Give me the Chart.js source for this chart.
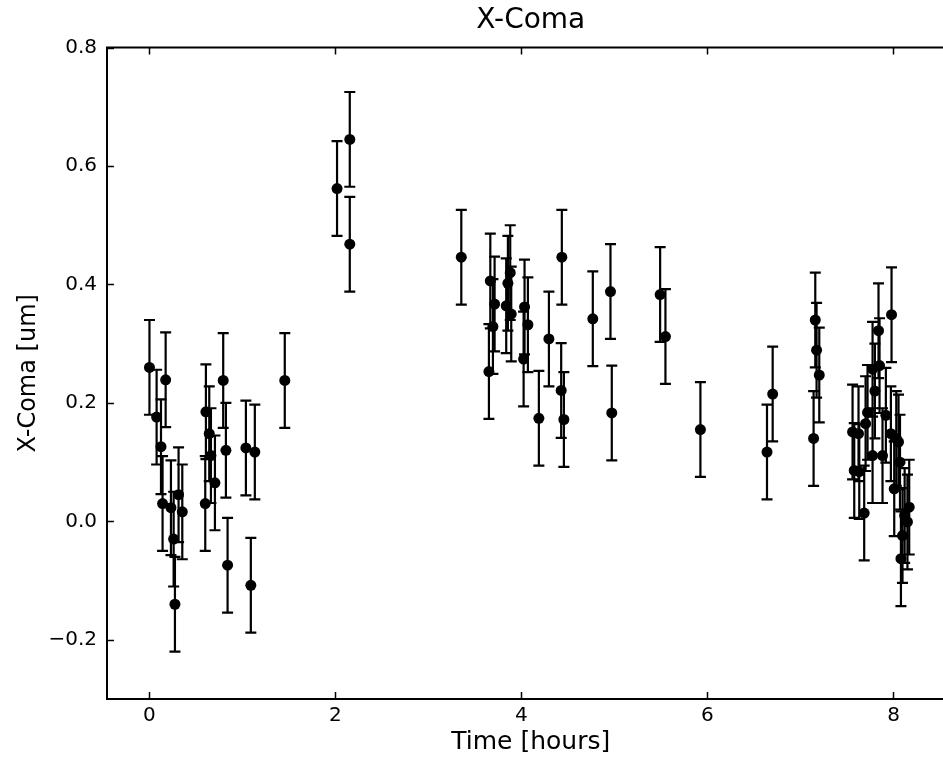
<!DOCTYPE html>
<html>
<head>
<meta charset="utf-8">
<title>X-Coma</title>
<script src="https://cdn.jsdelivr.net/npm/chart.js@4/dist/chart.umd.min.js"></script>
<style>
  html, body { margin: 0; padding: 0; overflow: hidden; background: #fff; }
  #wrap { width: 943px; height: 761px; overflow: hidden; position: relative; }
  canvas { display: block; }
</style>
</head>
<body>
<div id="wrap"><canvas id="c" width="960" height="761"></canvas></div>
<script>
// ---- data ----
const timeHours = [
  0.00, 0.077, 0.124, 0.141, 0.174, 0.231, 0.26, 0.274, 0.313, 0.353,
  0.600, 0.607, 0.643, 0.661, 0.704, 0.793, 0.822, 0.840, 1.037, 1.090,
  1.133, 1.455, 2.017, 2.154, 2.154, 3.353, 3.650, 3.665, 3.693, 3.711,
  3.836, 3.854, 3.879, 3.890, 4.023, 4.033, 4.069, 4.187, 4.295, 4.427,
  4.434, 4.456, 4.767, 4.957, 4.971, 5.491, 5.548, 5.924, 6.640, 6.701,
  7.141, 7.159, 7.173, 7.202,
  7.560, 7.578, 7.624, 7.632, 7.685, 7.700, 7.721, 7.775, 7.775, 7.800,
  7.839, 7.850, 7.882, 7.918, 7.972, 7.979, 8.008, 8.030, 8.054, 8.070,
  8.080, 8.097, 8.120, 8.150, 8.169
];
const xComa = [
  0.260, 0.176, 0.126, 0.030, 0.239, 0.023, -0.030, -0.140, 0.045, 0.016,
  0.030, 0.185, 0.148, 0.111, 0.065, 0.238, 0.120, -0.074, 0.124, -0.108,
  0.117, 0.238, 0.562, 0.645, 0.468, 0.446, 0.253, 0.406, 0.329, 0.367,
  0.364, 0.402, 0.420, 0.350, 0.274, 0.362, 0.332, 0.174, 0.308, 0.221,
  0.446, 0.172, 0.342, 0.388, 0.183, 0.383, 0.312, 0.155, 0.117, 0.215,
  0.140, 0.340, 0.289, 0.247,
  0.151, 0.086, 0.148, 0.084, 0.014, 0.165, 0.184, 0.257, 0.111, 0.220,
  0.322, 0.263, 0.111, 0.179, 0.148, 0.349, 0.055, 0.140, 0.134, 0.100,
  -0.063, -0.024, 0.010, -0.001, 0.024
];
const errorSize = 0.08;
const xTickValues = [0, 2, 4, 6, 8];
const yTickValues = [-0.2, 0.0, 0.2, 0.4, 0.6, 0.8];

const points = timeHours.map((t, i) => ({ x: t, y: xComa[i] }));

const fontFamily = "'DejaVu Sans', 'Liberation Sans', sans-serif";
Chart.defaults.font.family = fontFamily;
Chart.defaults.color = '#000';

const TICK_LEN = 7;

const decor = {
  id: 'decor',
  beforeDatasetsDraw(chart) {
    const { ctx, scales: { x, y } } = chart;
    ctx.save();
    ctx.strokeStyle = '#000';
    ctx.lineWidth = 2.2;
    timeHours.forEach((t, i) => {
      const px = x.getPixelForValue(t);
      const top = y.getPixelForValue(xComa[i] + errorSize);
      const bot = y.getPixelForValue(xComa[i] - errorSize);
      ctx.beginPath();
      ctx.moveTo(px, top); ctx.lineTo(px, bot);
      ctx.moveTo(px - 5.5, top); ctx.lineTo(px + 5.5, top);
      ctx.moveTo(px - 5.5, bot); ctx.lineTo(px + 5.5, bot);
      ctx.stroke();
    });
    ctx.restore();
  },
  afterDraw(chart) {
    const { ctx, chartArea: a, scales: { x, y } } = chart;
    ctx.save();
    ctx.strokeStyle = '#000';
    ctx.lineWidth = 1.5;
    ctx.beginPath();
    xTickValues.forEach(v => {
      const px = Math.round(x.getPixelForValue(v)) + 0.5;
      ctx.moveTo(px, a.bottom); ctx.lineTo(px, a.bottom - TICK_LEN);
      ctx.moveTo(px, a.top); ctx.lineTo(px, a.top + TICK_LEN);
    });
    yTickValues.forEach(v => {
      const py = Math.round(y.getPixelForValue(v)) + 0.5;
      ctx.moveTo(a.left, py); ctx.lineTo(a.left + TICK_LEN, py);
    });
    ctx.stroke();
    ctx.lineWidth = 2;
    ctx.beginPath();
    ctx.moveTo(a.right, a.top);
    ctx.lineTo(a.left, a.top);
    ctx.lineTo(a.left, a.bottom);
    ctx.lineTo(a.right, a.bottom);
    ctx.stroke();
    ctx.restore();
  }
};

new Chart(document.getElementById('c'), {
  type: 'scatter',
  data: {
    datasets: [{
      data: points,
      backgroundColor: '#000',
      borderColor: '#000',
      pointRadius: 5.5,
      pointHoverRadius: 5.5,
      borderWidth: 0
    }]
  },
  options: {
    responsive: false,
    animation: false,
    layout: { padding: { left: 0, top: 0, bottom: 0, right: 5 } },
    plugins: {
      legend: { display: false },
      tooltip: { enabled: false },
      title: {
        display: true,
        fullSize: false,
        text: 'X-Coma',
        color: '#000',
        font: { size: 28, weight: 'normal', family: fontFamily },
        padding: { top: 4, bottom: 10 }
      }
    },
    scales: {
      x: {
        type: 'linear',
        min: -0.4565,
        max: 8.656,
        grid: { display: false, drawTicks: false },
        border: { display: false },
        afterFit(s) { s.height = 62; },
        afterBuildTicks(s) { s.ticks = xTickValues.map(v => ({ value: v })); },
        ticks: {
          includeBounds: false,
          padding: 5,
          font: { size: 20 },
          color: '#000',
          callback: v => String(Math.round(v))
        },
        title: {
          display: true,
          text: 'Time [hours]',
          font: { size: 25 },
          color: '#000',
          padding: { top: 0, bottom: 4 }
        }
      },
      y: {
        type: 'linear',
        min: -0.3,
        max: 0.8,
        grid: { display: false, drawTicks: false },
        border: { display: false },
        afterFit(s) { s.width = 107; },
        afterBuildTicks(s) { s.ticks = yTickValues.map(v => ({ value: v })); },
        ticks: {
          includeBounds: false,
          padding: 10,
          font: { size: 20 },
          color: '#000',
          callback: v => {
            const r = Math.round(v * 10) / 10;
            return (r < 0 ? '\u2212' : '') + Math.abs(r).toFixed(1);
          }
        },
        title: {
          display: true,
          text: 'X-Coma [um]',
          font: { size: 24 },
          color: '#000',
          padding: { top: 14, bottom: 0 }
        }
      }
    }
  },
  plugins: [decor]
});
</script>
</body>
</html>
